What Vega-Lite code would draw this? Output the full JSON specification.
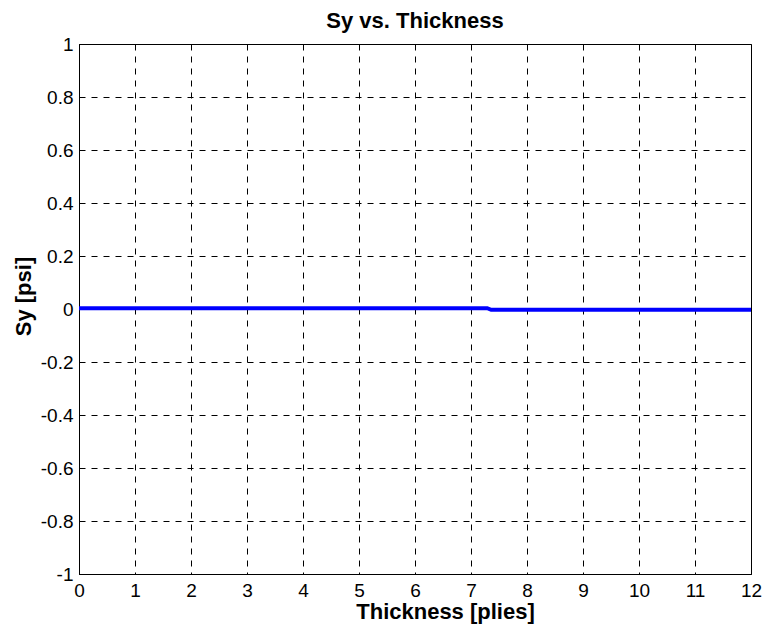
{
  "$schema": "https://vega.github.io/schema/vega-lite/v6.json",
  "autosize": {"type": "none"},
  "width": 672,
  "height": 530,
  "padding": {"left": 79, "top": 44, "right": 14, "bottom": 64},
  "background": "white",
  "config": {
    "font": "Liberation Sans",
    "view": {"stroke": "black", "strokeWidth": 1}
  },
  "title": {
    "text": "Sy vs. Thickness",
    "font": "Liberation Sans",
    "fontSize": 22,
    "fontWeight": "bold",
    "color": "black",
    "anchor": "middle",
    "frame": "group",
    "baseline": "bottom",
    "offset": 12,
    "dy": 32
  },
  "data": {
    "values": [
      {"thickness": 0, "sy": 0.003},
      {"thickness": 7.29, "sy": 0.003},
      {"thickness": 7.36, "sy": -0.003},
      {"thickness": 12, "sy": -0.003}
    ]
  },
  "mark": {"type": "line", "color": "#0000ff", "strokeWidth": 4, "clip": true},
  "encoding": {
    "x": {
      "field": "thickness",
      "type": "quantitative",
      "scale": {"domain": [0, 12], "nice": false, "zero": false},
      "axis": {
        "values": [0, 1, 2, 3, 4, 5, 6, 7, 8, 9, 10, 11, 12],
        "title": "Thickness [plies]",
        "titleFont": "Liberation Sans",
        "titleFontSize": 22,
        "titleFontWeight": "bold",
        "titleColor": "black",
        "titleX": 366,
        "titleY": 44,
        "titleBaseline": "alphabetic",
        "labelFont": "Liberation Sans",
        "labelFontSize": 19,
        "labelColor": "black",
        "labelPadding": 7,
        "labelBaseline": "top",
        "labelFlush": false,
        "labelOverlap": false,
        "ticks": false,
        "domainColor": "black",
        "grid": true,
        "gridColor": "black",
        "gridDash": [6, 6],
        "gridOpacity": 1,
        "gridWidth": 1
      }
    },
    "y": {
      "field": "sy",
      "type": "quantitative",
      "scale": {"domain": [-1, 1], "nice": false, "zero": false},
      "axis": {
        "values": [-1, -0.8, -0.6, -0.4, -0.2, 0, 0.2, 0.4, 0.6, 0.8, 1],
        "labelExpr": "'' + round(datum.value * 10) / 10",
        "title": "Sy [psi]",
        "titleFont": "Liberation Sans",
        "titleFontSize": 22,
        "titleFontWeight": "bold",
        "titleColor": "black",
        "titleX": -56,
        "titleY": 252,
        "titleBaseline": "middle",
        "titleAngle": -90,
        "labelFont": "Liberation Sans",
        "labelFontSize": 19,
        "labelColor": "black",
        "labelPadding": 6,
        "labelBaseline": "middle",
        "labelFlush": false,
        "labelOverlap": false,
        "ticks": false,
        "domainColor": "black",
        "grid": true,
        "gridColor": "black",
        "gridDash": [6, 6],
        "gridOpacity": 1,
        "gridWidth": 1
      }
    }
  }
}
